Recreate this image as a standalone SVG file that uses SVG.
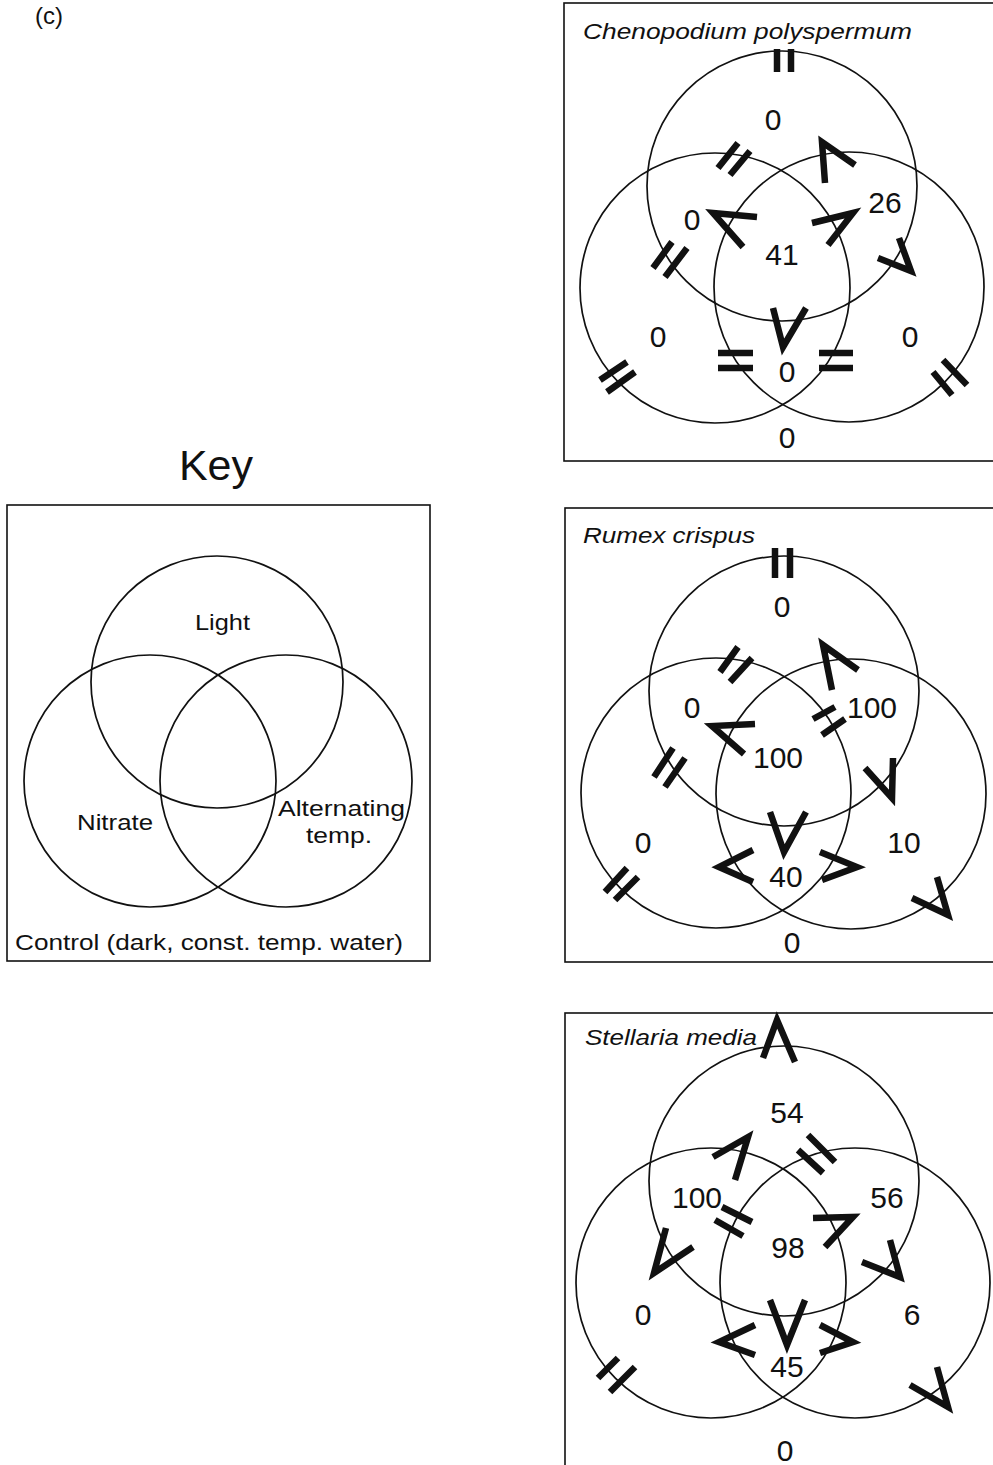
<svg xmlns="http://www.w3.org/2000/svg" width="993" height="1465" viewBox="0 0 993 1465">
<style>
.bg{fill:#fff}
.box{fill:none;stroke:#111;stroke-width:1.6}
.c{fill:none;stroke:#111;stroke-width:1.7}
.t{font-family:"Liberation Sans",Arial,sans-serif;fill:#111}
.n{font-family:"Liberation Sans",Arial,sans-serif;font-size:30px;fill:#111;text-anchor:middle}
.ti{font-family:"Liberation Sans",Arial,sans-serif;font-size:22px;font-style:italic;fill:#111}
.m{fill:none;stroke:#111;stroke-width:6.5;stroke-linecap:butt;stroke-linejoin:miter}
</style>
<rect class="bg" x="0" y="0" width="993" height="1465"/>
<text class="t" x="35" y="24" font-size="24">(c)</text>

<g id="key">
<text class="t" x="216" y="480" font-size="43" text-anchor="middle">Key</text>
<rect class="box" x="7" y="505" width="423" height="456"/>
<circle class="c" cx="217" cy="682" r="126"/>
<circle class="c" cx="150" cy="781" r="126"/>
<circle class="c" cx="286" cy="781" r="126"/>
<text class="t" x="195" y="630" font-size="22" textLength="55" lengthAdjust="spacingAndGlyphs">Light</text>
<text class="t" x="77" y="830" font-size="22" textLength="76" lengthAdjust="spacingAndGlyphs">Nitrate</text>
<text class="t" x="278" y="816" font-size="22" textLength="127" lengthAdjust="spacingAndGlyphs">Alternating</text>
<text class="t" x="306" y="843" font-size="22" textLength="66" lengthAdjust="spacingAndGlyphs">temp.</text>
<text class="t" x="15" y="950" font-size="22" textLength="388" lengthAdjust="spacingAndGlyphs">Control (dark, const. temp. water)</text>
</g>

<g id="chenopodium">
<rect class="box" x="564" y="3" width="440" height="458"/>
<text class="ti" x="583" y="39" textLength="329" lengthAdjust="spacingAndGlyphs">Chenopodium polyspermum</text>
<circle class="c" cx="782" cy="186" r="135"/>
<circle class="c" cx="715" cy="288" r="135"/>
<circle class="c" cx="849" cy="287" r="135"/>
<text class="n" x="773" y="130">0</text>
<text class="n" x="692" y="230">0</text>
<text class="n" x="782" y="265">41</text>
<text class="n" x="885" y="213">26</text>
<text class="n" x="658" y="347">0</text>
<text class="n" x="910" y="347">0</text>
<text class="n" x="787" y="382">0</text>
<text class="n" x="787" y="448">0</text>
</g>

<g id="rumex">
<rect class="box" x="565" y="508" width="440" height="454"/>
<text class="ti" x="583" y="543" textLength="172" lengthAdjust="spacingAndGlyphs">Rumex crispus</text>
<circle class="c" cx="784" cy="691" r="135"/>
<circle class="c" cx="716" cy="793" r="135"/>
<circle class="c" cx="851" cy="794" r="135"/>
<text class="n" x="782" y="617">0</text>
<text class="n" x="692" y="718">0</text>
<text class="n" x="872" y="718">100</text>
<text class="n" x="778" y="768">100</text>
<text class="n" x="643" y="853">0</text>
<text class="n" x="904" y="853">10</text>
<text class="n" x="786" y="887">40</text>
<text class="n" x="792" y="953">0</text>
</g>

<g id="stellaria">
<rect class="box" x="565" y="1013" width="440" height="470"/>
<text class="ti" x="585" y="1045" textLength="172" lengthAdjust="spacingAndGlyphs">Stellaria media</text>
<circle class="c" cx="784" cy="1181" r="135"/>
<circle class="c" cx="711" cy="1283" r="135"/>
<circle class="c" cx="855" cy="1283" r="135"/>
<text class="n" x="787" y="1123">54</text>
<text class="n" x="697" y="1208">100</text>
<text class="n" x="887" y="1208">56</text>
<text class="n" x="788" y="1258">98</text>
<text class="n" x="643" y="1325">0</text>
<text class="n" x="912" y="1325">6</text>
<text class="n" x="787" y="1377">45</text>
<text class="n" x="785" y="1461">0</text>
</g>

<g id="connectors">
<g id="marks-chenopodium">
<path class="m" d="M777,49V72M791,49V72"/>
<path class="m" d="M718,168L738,143M730,175L750,151"/>
<path class="m" d="M825,183L822,142L855,165"/>
<path class="m" d="M757,217L713,213L743,247"/>
<path class="m" d="M812,223L853,213L828,245"/>
<path class="m" d="M899,238L911,271L878,258"/>
<path class="m" d="M653,268L672,242M665,277L687,248"/>
<path class="m" d="M773,308L783,347L806,308"/>
<path class="m" d="M718,353H753M718,368H753M819,353H853M819,368H853"/>
<path class="m" d="M600,380L627,362M607,392L635,372"/>
<path class="m" d="M933,372L952,395M943,360L967,385"/>
</g>
<g id="marks-rumex">
<path class="m" d="M775,548V578M790,548V578"/>
<path class="m" d="M720,672L738,647M730,682L752,658"/>
<path class="m" d="M755,724L712,726L744,754"/>
<path class="m" d="M654,777L673,748M665,787L685,758"/>
<path class="m" d="M832,690L823,645L858,670"/>
<path class="m" d="M813,719L835,707M822,735L845,719"/>
<path class="m" d="M893,758L892,798L865,768"/>
<path class="m" d="M770,812L784,852L806,812"/>
<path class="m" d="M753,850L719,867L753,882"/>
<path class="m" d="M820,852L857,867L822,880"/>
<path class="m" d="M605,892L627,868M615,900L638,877"/>
<path class="m" d="M937,877L948,915L912,898"/>
</g>
<g id="marks-stellaria">
<path class="m" d="M763,1058L777,1020L795,1062"/>
<path class="m" d="M713,1157L748,1137L735,1180"/>
<path class="m" d="M722,1207L752,1222M715,1220L743,1236"/>
<path class="m" d="M666,1228L654,1273L693,1247"/>
<path class="m" d="M808,1135L835,1162M798,1150L823,1173"/>
<path class="m" d="M813,1218L853,1217L825,1247"/>
<path class="m" d="M890,1240L900,1277L862,1262"/>
<path class="m" d="M770,1300L787,1345L805,1300"/>
<path class="m" d="M755,1325L719,1342L755,1355"/>
<path class="m" d="M820,1325L853,1342L820,1353"/>
<path class="m" d="M598,1378L618,1358M610,1392L635,1367"/>
<path class="m" d="M937,1367L948,1407L910,1385"/>
</g>
</g>
</svg>
